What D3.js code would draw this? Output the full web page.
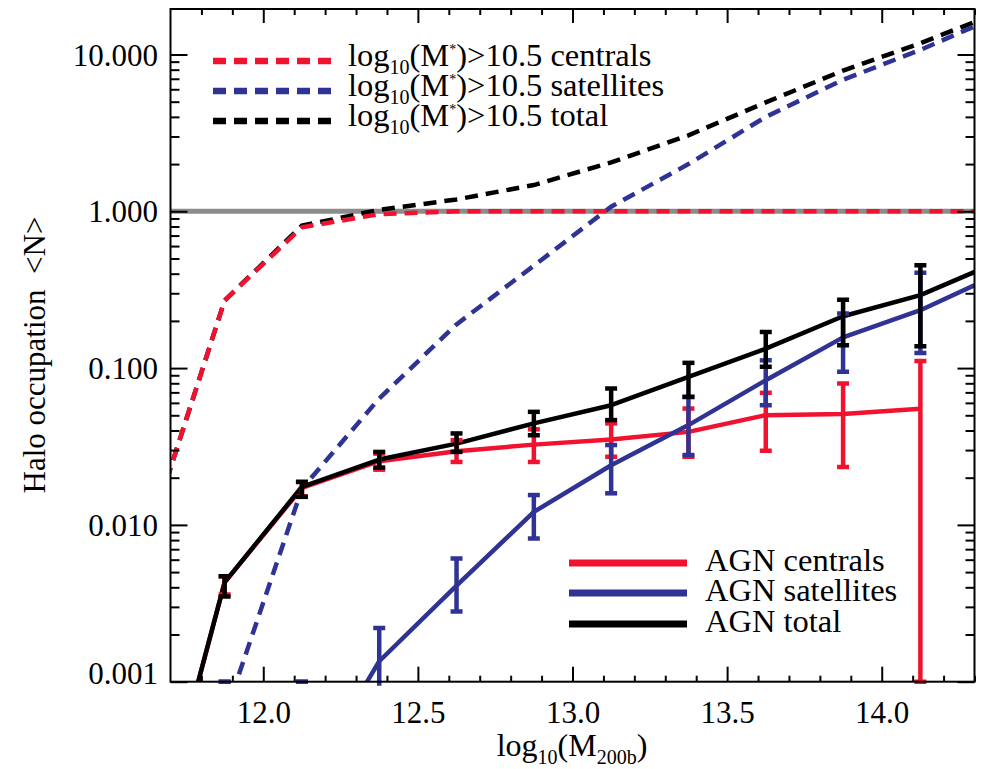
<!DOCTYPE html>
<html>
<head>
<meta charset="utf-8">
<script src="https://cdn.jsdelivr.net/npm/d3@7"></script>
<style>
  html, body { margin: 0; padding: 0; background: #fff; }
  svg { display: block; }
  text { font-family: "Liberation Serif", "DejaVu Serif", serif; fill: #000; }
</style>
</head>
<body>
<svg id="chart" width="986" height="769"></svg>
<script>
// ---------------- data ----------------
const massBins = [11.625, 11.875, 12.125, 12.375, 12.625, 12.875, 13.125, 13.375, 13.625, 13.875, 14.125, 14.375];

// galaxies with log10(M*) > 10.5 (dashed)
const cen105 = [0.008, 0.27, 0.79, 0.96, 1.0, 1.0, 1.0, 1.0, 1.0, 1.0, 1.0, 1.0];
const sat105 = [0.0001, 0.0006, 0.017, 0.064, 0.19, 0.45, 1.07, 2.0, 4.0, 6.9, 10.7, 17.5];
const tot105 = [0.008, 0.27, 0.81, 1.02, 1.19, 1.47, 2.05, 3.05, 4.95, 7.9, 11.8, 18.4];

// AGN (solid, with error bars)
const agnCen   = [0.00006, 0.0043, 0.0172, 0.0255, 0.0295, 0.0325, 0.0350, 0.0392, 0.0501, 0.0510, 0.0550, null];
const agnCenLo = [null, 0.0036, 0.0152, 0.0225, 0.0252, 0.0252, 0.0272, 0.0272, 0.0297, 0.0234, 0.001, null];
const agnCenHi = [null, 0.0047, 0.0188, 0.0285, 0.0347, 0.0407, 0.0444, 0.0552, 0.0695, 0.0798, 0.111, null];

const agnSat   = [null, 0.0001, 0.0002, 0.00135, 0.0041, 0.0121, 0.0240, 0.0433, 0.0837, 0.157, 0.234, 0.395];
const agnSatLo = [null, 0.001, 0.001, 0.0004, 0.0028, 0.0082, 0.0159, 0.0279, 0.058, 0.0946, 0.125, null];
const agnSatHi = [null, 0.001, 0.001, 0.0022, 0.0061, 0.0155, 0.0323, 0.0655, 0.112, 0.223, 0.406, null];

const agnTot   = [0.00006, 0.0043, 0.0175, 0.0261, 0.0330, 0.0444, 0.0580, 0.0879, 0.133, 0.214, 0.292, 0.475];
const agnTotLo = [null, 0.0035, 0.0151, 0.0232, 0.0292, 0.0373, 0.0466, 0.0655, 0.102, 0.140, 0.138, null];
const agnTotHi = [null, 0.0047, 0.0188, 0.0292, 0.0383, 0.0526, 0.0741, 0.108, 0.170, 0.273, 0.453, null];

const xMajorTicks = [12.0, 12.5, 13.0, 13.5, 14.0];
const yMajorTicks = [0.001, 0.01, 0.1, 1, 10];

const dashedLegend = ["centrals", "satellites", "total"];
const agnLegend = ["AGN centrals", "AGN satellites", "AGN total"];

// ---------------- setup ----------------
const RED = "#f0122e", BLUE = "#2f3393", BLACK = "#000000", GRAY = "#8c8c8c";
const svg = d3.select("#chart");
const L = 170.5, R = 974.5, T = 9, B = 681.7;
const x = d3.scaleLinear().domain([11.7, 14.3]).range([L, R]);
const y = d3.scaleLog().domain([0.001, 19.5]).range([B, T]);

svg.append("defs").append("clipPath").attr("id", "clip")
  .append("rect").attr("x", L).attr("y", T).attr("width", R - L).attr("height", B - T);
svg.select("defs").append("clipPath").attr("id", "clipE")
  .append("rect").attr("x", L).attr("y", T).attr("width", R - L).attr("height", B - T + 4);

const plot = svg.append("g").attr("clip-path", "url(#clip)");
const ebar = svg.append("g").attr("clip-path", "url(#clipE)");

// gray reference line at 1
plot.append("line").attr("x1", L).attr("x2", R).attr("y1", y(1)).attr("y2", y(1))
  .attr("stroke", GRAY).attr("stroke-width", 5);

const line = d3.line()
  .defined(d => d.v != null && d.v > 0)
  .x(d => x(d.m)).y(d => y(d.v));
const pts = arr => massBins.map((m, i) => ({ m: m, v: arr[i] }));

function dashed(arr, color) {
  plot.append("path").datum(pts(arr)).attr("d", line)
    .attr("fill", "none").attr("stroke", color).attr("stroke-width", 4.5)
    .attr("stroke-dasharray", "13,8");
}
dashed(tot105, BLACK);
dashed(sat105, BLUE);
dashed(cen105, RED);

function solid(vals, lo, hi, color) {
  plot.append("path").datum(pts(vals)).attr("d", line)
    .attr("fill", "none").attr("stroke", color).attr("stroke-width", 4.5)
    .attr("stroke-linejoin", "round");
  const eb = massBins.map((m, i) => ({ m: m, lo: lo[i], hi: hi[i] })).filter(d => d.lo != null && d.hi != null);
  const g = ebar.append("g").attr("stroke", color);
  g.selectAll("line.v").data(eb).join("line")
    .attr("x1", d => x(d.m)).attr("x2", d => x(d.m))
    .attr("y1", d => y(d.lo)).attr("y2", d => y(d.hi)).attr("stroke-width", 4.5);
  g.selectAll("line.lo").data(eb).join("line")
    .attr("x1", d => x(d.m) - 6).attr("x2", d => x(d.m) + 6)
    .attr("y1", d => y(d.lo)).attr("y2", d => y(d.lo)).attr("stroke-width", 4.5);
  g.selectAll("line.hi").data(eb).join("line")
    .attr("x1", d => x(d.m) - 6).attr("x2", d => x(d.m) + 6)
    .attr("y1", d => y(d.hi)).attr("y2", d => y(d.hi)).attr("stroke-width", 4.5);
}
solid(agnCen, agnCenLo, agnCenHi, RED);
solid(agnSat, agnSatLo, agnSatHi, BLUE);
solid(agnTot, agnTotLo, agnTotHi, BLACK);

// ---------------- axes ----------------
const xMinor = d3.range(118, 144).map(v => v / 10).filter(v => xMajorTicks.indexOf(v) < 0);
const yMinor = [];
[-3, -2, -1, 0, 1].forEach(e => { for (let k = 2; k <= 9; k++) { const v = k * Math.pow(10, e); if (v <= 19.5) yMinor.push(v); } });

function styleAxis(g) {
  g.select(".domain").remove();
  g.selectAll(".tick line").attr("stroke", "#000").attr("stroke-width", 2);
  g.selectAll("text").style("font-family", '"Liberation Serif", serif').style("font-size", "31px").attr("fill", "#000");
}

// bottom
svg.append("g").attr("transform", `translate(0,${B})`)
  .call(d3.axisBottom(x).tickValues(xMajorTicks).tickSize(-15).tickPadding(0).tickFormat(d3.format(".1f")))
  .call(styleAxis)
  .call(g => g.selectAll("text").attr("y", 41.3).attr("dy", "0"));
svg.append("g").attr("transform", `translate(0,${B})`)
  .call(d3.axisBottom(x).tickValues(xMinor).tickSize(-6).tickFormat("")).call(styleAxis);
// top
svg.append("g").attr("transform", `translate(0,${T})`)
  .call(d3.axisTop(x).tickValues(xMajorTicks).tickSize(-14).tickFormat("")).call(styleAxis);
svg.append("g").attr("transform", `translate(0,${T})`)
  .call(d3.axisTop(x).tickValues(xMinor).tickSize(-6).tickFormat("")).call(styleAxis);
// left
svg.append("g").attr("transform", `translate(${L},0)`)
  .call(d3.axisLeft(y).tickValues(yMajorTicks).tickSize(-17).tickPadding(12.5).tickFormat(d3.format(".3f")))
  .call(styleAxis)
  .call(g => g.selectAll("text").attr("dy", d => d === 0.001 ? "0.05em" : "0.34em"));
svg.append("g").attr("transform", `translate(${L},0)`)
  .call(d3.axisLeft(y).tickValues(yMinor).tickSize(-9).tickFormat("")).call(styleAxis);
// right
svg.append("g").attr("transform", `translate(${R},0)`)
  .call(d3.axisRight(y).tickValues(yMajorTicks).tickSize(-17).tickFormat("")).call(styleAxis);
svg.append("g").attr("transform", `translate(${R},0)`)
  .call(d3.axisRight(y).tickValues(yMinor).tickSize(-9).tickFormat("")).call(styleAxis);

// frame
svg.append("rect").attr("x", L).attr("y", T).attr("width", R - L).attr("height", B - T)
  .attr("fill", "none").attr("stroke", "#000").attr("stroke-width", 2);

// axis titles
const xt = svg.append("text").attr("x", 572).attr("y", 756).attr("text-anchor", "middle").style("font-size", "32px");
xt.append("tspan").text("log");
xt.append("tspan").attr("dy", 8).style("font-size", "20px").text("10");
xt.append("tspan").attr("dy", -8).text("(M");
xt.append("tspan").attr("dy", 8).style("font-size", "20px").text("200b");
xt.append("tspan").attr("dy", -8).text(")");

svg.append("text").attr("transform", "translate(45,355) rotate(-90)")
  .attr("text-anchor", "middle").style("font-size", "31px").style("white-space", "pre")
  .text("Halo occupation  <N>");

// ---------------- legends ----------------
const dashColors = [RED, BLUE, BLACK];
const dashY = [61, 91, 121];
dashedLegend.forEach((lab, i) => {
  svg.append("line").attr("x1", 213).attr("x2", 331).attr("y1", dashY[i]).attr("y2", dashY[i])
    .attr("stroke", dashColors[i]).attr("stroke-width", 6.5).attr("stroke-dasharray", "13,8");
  const t = svg.append("text").attr("x", 348).attr("y", dashY[i] + 5).style("font-size", "32.5px");
  t.append("tspan").text("log");
  t.append("tspan").attr("dy", 8).style("font-size", "20px").text("10");
  t.append("tspan").attr("dy", -8).text("(M");
  t.append("tspan").attr("dy", -12).style("font-size", "14px").text("*");
  t.append("tspan").attr("dy", 12).text(")>10.5 " + lab);
});

const agnColors = [RED, BLUE, BLACK];
const agnY = [563, 593, 624];
agnLegend.forEach((lab, i) => {
  svg.append("line").attr("x1", 569).attr("x2", 687).attr("y1", agnY[i]).attr("y2", agnY[i])
    .attr("stroke", agnColors[i]).attr("stroke-width", 7);
  svg.append("text").attr("x", 705).attr("y", agnY[i] + 8).style("font-size", "32.5px").text(lab);
});
</script>
</body>
</html>
